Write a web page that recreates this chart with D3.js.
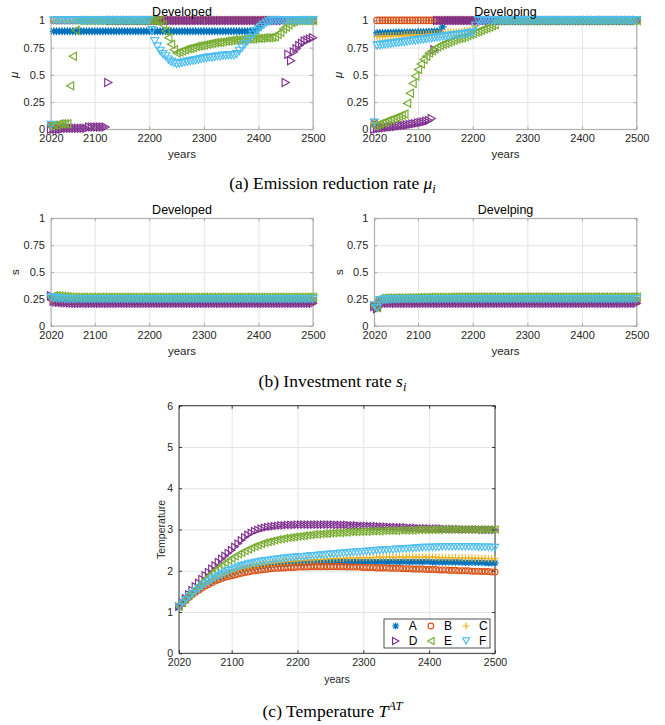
<!DOCTYPE html>
<html><head><meta charset="utf-8">
<script src="https://cdn.jsdelivr.net/npm/d3@7"></script>
<style>body{margin:0;background:#fff}svg{display:block}</style>
</head><body>
<svg id="chart" width="665" height="725"></svg>
<script>
const years = [
 2020,2025,2030,2035,2040,2045,2050,2055,2060,2065,
 2070,2075,2080,2085,2090,2095,2100,2105,2110,2115,
 2120,2125,2130,2135,2140,2145,2150,2155,2160,2165,
 2170,2175,2180,2185,2190,2195,2200,2205,2210,2215,
 2220,2225,2230,2235,2240,2245,2250,2255,2260,2265,
 2270,2275,2280,2285,2290,2295,2300,2305,2310,2315,
 2320,2325,2330,2335,2340,2345,2350,2355,2360,2365,
 2370,2375,2380,2385,2390,2395,2400,2405,2410,2415,
 2420,2425,2430,2435,2440,2445,2450,2455,2460,2465,
 2470,2475,2480,2485,2490,2495,2500];

const seriesNames = ["A","B","C","D","E","F"];
const seriesColors = ["#0072BD","#D95319","#EDB120","#7E2F8E","#77AC30","#4DBEEE"];
const seriesMarkers = ["asterisk","circle","plus","right","left","down"];
const xTicks = [2020,2100,2200,2300,2400,2500];
const unitTicks = [0,0.25,0.5,0.75,1];
const tempTicks = [0,1,2,3,4,5,6];

// ---- (a) Emission reduction rate, Developed ----
const muDevA = [
 0.04,0.9,0.9,0.9,0.9,0.9,0.9,0.9,0.9,0.9,
 0.9,0.9,0.9,0.9,0.9,0.9,0.9,0.9,0.9,0.9,
 0.9,0.9,0.9,0.9,0.9,0.9,0.9,0.9,0.9,0.9,
 0.9,0.9,0.9,0.9,0.9,0.9,0.9,0.9,0.9,0.9,
 0.9,0.9,0.9,0.9,0.9,0.9,0.9,0.9,0.9,0.9,
 0.9,0.9,0.9,0.9,0.9,0.9,0.9,0.9,0.9,0.9,
 0.9,0.9,0.9,0.9,0.9,0.9,0.9,0.9,0.9,0.9,
 0.9,0.9,0.9,0.9,0.9,0.9,0.93,0.96,0.99,1,
 1,1,1,1,1,1,1,1,1,1,
 1,1,1,1,1,1,1];
const muDevB = [
 0.04,1,1,1,1,1,1,1,1,1,
 1,1,1,1,1,1,1,1,1,1,
 1,1,1,1,1,1,1,1,1,1,
 1,1,1,1,1,1,1,1,1,1,
 1,1,1,1,1,1,1,1,1,1,
 1,1,1,1,1,1,1,1,1,1,
 1,1,1,1,1,1,1,1,1,1,
 1,1,1,1,1,1,1,1,1,1,
 1,1,1,1,1,1,1,1,1,1,
 1,1,1,1,1,1,1];
const muDevC = [
 0.04,1,1,1,1,1,1,1,1,1,
 1,1,1,1,1,1,1,1,1,1,
 1,1,1,1,1,1,1,1,1,1,
 1,1,1,1,1,1,1,1,1,1,
 1,1,1,1,1,1,1,1,1,1,
 1,1,1,1,1,1,1,1,1,1,
 1,1,1,1,1,1,1,1,1,1,
 1,1,1,1,1,1,1,1,1,1,
 1,1,1,1,1,1,1,1,1,1,
 1,1,1,1,1,1,1];
const muDevD = [
 0,0,0,0,0,0.01,0.01,0.01,0.01,0.01,
 0.01,0.01,0.01,0.01,0.02,0.02,0.02,0.02,0.02,0.02,
 0.02,0.43,1,1,1,1,1,1,1,1,
 1,1,1,1,1,1,1,1,1,1,
 1,1,1,1,1,1,1,1,1,1,
 1,1,1,1,1,1,1,1,1,1,
 1,1,1,1,1,1,1,1,1,1,
 1,1,1,1,1,1,1,1,1,1,
 1,1,1,1,1,1,0.43,0.69,0.63,0.71,
 0.74,0.77,0.79,0.81,0.82,0.83,0.84];
const muDevE = [
 0.03,0.04,0.04,0.05,0.05,0.05,0.05,0.40,0.67,0.91,
 1,1,1,1,1,1,1,1,1,1,
 1,1,1,1,1,1,1,1,1,1,
 1,1,1,1,1,1,1,1,1,1,
 1,0.96,0.90,0.84,0.78,0.73,0.70,0.71,0.72,0.73,
 0.74,0.745,0.75,0.76,0.765,0.77,0.775,0.78,0.785,0.79,
 0.795,0.80,0.80,0.805,0.81,0.81,0.815,0.82,0.82,0.82,
 0.825,0.825,0.83,0.83,0.83,0.835,0.835,0.835,0.84,0.84,
 0.84,0.845,0.85,0.87,0.89,0.92,0.94,0.96,0.98,0.99,
 1,1,1,1,1,1,1];
const muDevF = [
 0.04,1,1,1,1,1,1,1,1,1,
 1,1,1,1,1,1,1,1,1,1,
 1,1,1,1,1,1,1,1,1,1,
 1,1,1,1,1,1,1,0.91,0.81,0.76,
 0.72,0.69,0.67,0.64,0.62,0.61,0.60,0.605,0.61,0.615,
 0.62,0.625,0.63,0.635,0.64,0.645,0.65,0.655,0.66,0.66,
 0.665,0.67,0.67,0.675,0.675,0.68,0.68,0.68,0.69,0.72,
 0.75,0.78,0.81,0.84,0.87,0.90,0.92,0.94,0.96,0.98,
 0.99,1,1,1,1,1,1,1,1,1,
 1,1,1,1,1,1,1];

// ---- (a) Emission reduction rate, Developing ----
const muDvgA = [
 0.06,0.885,0.885,0.885,0.885,0.887,0.887,0.887,0.888,0.888,
 0.888,0.889,0.889,0.89,0.89,0.89,0.891,0.892,0.893,0.894,
 0.895,0.896,0.897,0.898,0.90,0.94,1,1,1,1,
 1,1,1,1,1,1,1,1,1,1,
 1,1,1,1,1,1,1,1,1,1,
 1,1,1,1,1,1,1,1,1,1,
 1,1,1,1,1,1,1,1,1,1,
 1,1,1,1,1,1,1,1,1,1,
 1,1,1,1,1,1,1,1,1,1,
 1,1,1,1,1,1,1];
const muDvgB = [
 0.06,1,1,1,1,1,1,1,1,1,
 1,1,1,1,1,1,1,1,1,1,
 1,1,1,1,1,1,1,1,1,1,
 1,1,1,1,1,1,1,1,1,1,
 1,1,1,1,1,1,1,1,1,1,
 1,1,1,1,1,1,1,1,1,1,
 1,1,1,1,1,1,1,1,1,1,
 1,1,1,1,1,1,1,1,1,1,
 1,1,1,1,1,1,1,1,1,1,
 1,1,1,1,1,1,1];
const muDvgC = [
 0.06,0.85,0.85,0.855,0.855,0.855,0.86,0.86,0.86,0.86,
 0.86,0.865,0.865,0.865,0.865,0.87,0.87,0.87,0.87,0.87,
 0.875,0.875,0.875,0.875,0.88,0.88,0.885,0.885,0.89,0.89,
 0.89,0.895,0.895,0.90,0.90,0.905,0.91,0.95,1,1,
 1,1,1,1,1,1,1,1,1,1,
 1,1,1,1,1,1,1,1,1,1,
 1,1,1,1,1,1,1,1,1,1,
 1,1,1,1,1,1,1,1,1,1,
 1,1,1,1,1,1,1,1,1,1,
 1,1,1,1,1,1,1];
const muDvgD = [
 0,0.005,0.01,0.012,0.015,0.018,0.02,0.023,0.026,0.03,
 0.033,0.036,0.04,0.044,0.048,0.052,0.057,0.062,0.067,0.073,
 0.08,0.10,0.73,1,1,1,1,1,1,1,
 1,1,1,1,1,1,1,1,1,1,
 1,1,1,1,1,1,1,1,1,1,
 1,1,1,1,1,1,1,1,1,1,
 1,1,1,1,1,1,1,1,1,1,
 1,1,1,1,1,1,1,1,1,1,
 1,1,1,1,1,1,1,1,1,1,
 1,1,1,1,1,1,1];
const muDvgE = [
 0.03,0.04,0.05,0.06,0.07,0.08,0.09,0.10,0.11,0.12,
 0.13,0.14,0.24,0.33,0.42,0.49,0.55,0.60,0.64,0.67,
 0.70,0.72,0.74,0.755,0.77,0.78,0.79,0.80,0.81,0.82,
 0.83,0.835,0.84,0.85,0.86,0.87,0.88,0.89,0.90,0.91,
 0.92,0.93,0.94,0.95,0.96,1,1,1,1,1,
 1,1,1,1,1,1,1,1,1,1,
 1,1,1,1,1,1,1,1,1,1,
 1,1,1,1,1,1,1,1,1,1,
 1,1,1,1,1,1,1,1,1,1,
 1,1,1,1,1,1,1];
const muDvgF = [
 0.06,0.77,0.773,0.776,0.78,0.783,0.786,0.79,0.793,0.796,
 0.80,0.803,0.806,0.81,0.813,0.816,0.82,0.823,0.826,0.83,
 0.833,0.836,0.84,0.843,0.846,0.85,0.853,0.856,0.86,0.863,
 0.866,0.87,0.873,0.876,0.88,0.883,0.89,0.95,1,1,
 1,1,1,1,1,1,1,1,1,1,
 1,1,1,1,1,1,1,1,1,1,
 1,1,1,1,1,1,1,1,1,1,
 1,1,1,1,1,1,1,1,1,1,
 1,1,1,1,1,1,1,1,1,1,
 1,1,1,1,1,1,1];

// ---- (b) Investment rate, Developed ----
const sDevA = [
 0.26,0.245,0.242,0.24,0.24,0.24,0.24,0.24,0.24,0.24,
 0.24,0.24,0.24,0.24,0.24,0.24,0.24,0.24,0.24,0.24,
 0.24,0.24,0.24,0.24,0.24,0.24,0.24,0.24,0.24,0.24,
 0.24,0.24,0.24,0.24,0.24,0.24,0.24,0.24,0.24,0.24,
 0.24,0.24,0.24,0.24,0.24,0.24,0.24,0.24,0.24,0.24,
 0.24,0.24,0.24,0.24,0.24,0.24,0.24,0.24,0.24,0.24,
 0.24,0.24,0.24,0.24,0.24,0.24,0.24,0.24,0.24,0.24,
 0.24,0.24,0.24,0.24,0.24,0.24,0.24,0.24,0.24,0.24,
 0.24,0.24,0.24,0.24,0.24,0.24,0.24,0.24,0.24,0.24,
 0.24,0.24,0.24,0.24,0.24,0.24,0.24];
const sDevB = [
 0.26,0.235,0.232,0.23,0.23,0.23,0.23,0.23,0.23,0.23,
 0.23,0.23,0.23,0.23,0.23,0.23,0.23,0.23,0.23,0.23,
 0.23,0.23,0.23,0.23,0.23,0.23,0.23,0.23,0.23,0.23,
 0.23,0.23,0.23,0.23,0.23,0.23,0.23,0.23,0.23,0.23,
 0.23,0.23,0.23,0.23,0.23,0.23,0.23,0.23,0.23,0.23,
 0.23,0.23,0.23,0.23,0.23,0.23,0.23,0.23,0.23,0.23,
 0.23,0.23,0.23,0.23,0.23,0.23,0.23,0.23,0.23,0.23,
 0.23,0.23,0.23,0.23,0.23,0.23,0.23,0.23,0.23,0.23,
 0.23,0.23,0.23,0.23,0.23,0.23,0.23,0.23,0.23,0.23,
 0.23,0.23,0.23,0.23,0.23,0.23,0.23];
const sDevC = [
 0.26,0.25,0.248,0.245,0.245,0.245,0.245,0.245,0.245,0.245,
 0.245,0.245,0.245,0.245,0.245,0.245,0.245,0.245,0.245,0.245,
 0.245,0.245,0.245,0.245,0.245,0.245,0.245,0.245,0.245,0.245,
 0.245,0.245,0.245,0.245,0.245,0.245,0.245,0.245,0.245,0.245,
 0.245,0.245,0.245,0.245,0.245,0.245,0.245,0.245,0.245,0.245,
 0.245,0.245,0.245,0.245,0.245,0.245,0.245,0.245,0.245,0.245,
 0.245,0.245,0.245,0.245,0.245,0.245,0.245,0.245,0.245,0.245,
 0.245,0.245,0.245,0.245,0.245,0.245,0.245,0.245,0.245,0.245,
 0.245,0.245,0.245,0.245,0.245,0.245,0.245,0.245,0.245,0.245,
 0.245,0.245,0.245,0.245,0.245,0.245,0.245];
const sDevD = [
 0.28,0.23,0.222,0.22,0.218,0.216,0.215,0.214,0.213,0.212,
 0.21,0.21,0.21,0.21,0.21,0.21,0.21,0.21,0.21,0.21,
 0.21,0.21,0.21,0.21,0.21,0.21,0.21,0.21,0.21,0.21,
 0.21,0.21,0.21,0.21,0.21,0.21,0.21,0.21,0.21,0.21,
 0.21,0.21,0.21,0.21,0.21,0.21,0.21,0.21,0.21,0.21,
 0.21,0.21,0.21,0.21,0.21,0.21,0.21,0.21,0.21,0.21,
 0.21,0.21,0.21,0.21,0.21,0.21,0.21,0.21,0.21,0.21,
 0.21,0.21,0.21,0.21,0.21,0.21,0.21,0.21,0.21,0.21,
 0.21,0.21,0.21,0.21,0.21,0.21,0.21,0.21,0.21,0.21,
 0.21,0.21,0.21,0.21,0.21,0.21,0.21];
const sDevE = [
 0.27,0.28,0.28,0.278,0.276,0.274,0.272,0.27,0.268,0.267,
 0.266,0.266,0.266,0.266,0.266,0.266,0.266,0.266,0.266,0.266,
 0.266,0.266,0.266,0.266,0.266,0.266,0.266,0.266,0.266,0.266,
 0.266,0.266,0.266,0.266,0.266,0.266,0.266,0.266,0.266,0.266,
 0.266,0.266,0.266,0.266,0.266,0.266,0.266,0.266,0.266,0.266,
 0.266,0.266,0.266,0.266,0.266,0.266,0.266,0.266,0.266,0.266,
 0.266,0.266,0.266,0.266,0.266,0.266,0.266,0.266,0.266,0.266,
 0.266,0.266,0.266,0.266,0.266,0.266,0.266,0.266,0.266,0.266,
 0.266,0.266,0.266,0.266,0.266,0.266,0.266,0.266,0.266,0.266,
 0.266,0.266,0.266,0.266,0.266,0.266,0.266];
const sDevF = [
 0.265,0.26,0.258,0.256,0.254,0.252,0.25,0.25,0.25,0.25,
 0.25,0.25,0.25,0.25,0.25,0.25,0.25,0.25,0.25,0.25,
 0.25,0.25,0.25,0.25,0.25,0.25,0.25,0.25,0.25,0.25,
 0.25,0.25,0.25,0.25,0.25,0.25,0.25,0.25,0.25,0.25,
 0.25,0.25,0.25,0.25,0.25,0.25,0.25,0.25,0.25,0.25,
 0.25,0.25,0.25,0.25,0.25,0.25,0.25,0.25,0.25,0.25,
 0.25,0.25,0.25,0.25,0.25,0.25,0.25,0.25,0.25,0.25,
 0.25,0.25,0.25,0.25,0.25,0.25,0.25,0.25,0.25,0.25,
 0.25,0.25,0.25,0.25,0.25,0.25,0.25,0.25,0.25,0.25,
 0.25,0.25,0.25,0.25,0.25,0.25,0.25];

// ---- (b) Investment rate, Developing ----
const sDvgA = [
 0.19,0.17,0.232,0.235,0.236,0.237,0.238,0.238,0.239,0.239,
 0.24,0.24,0.24,0.24,0.24,0.24,0.24,0.24,0.24,0.24,
 0.24,0.24,0.24,0.24,0.24,0.24,0.24,0.24,0.24,0.24,
 0.24,0.24,0.24,0.24,0.24,0.24,0.24,0.24,0.24,0.24,
 0.24,0.24,0.24,0.24,0.24,0.24,0.24,0.24,0.24,0.24,
 0.24,0.24,0.24,0.24,0.24,0.24,0.24,0.24,0.24,0.24,
 0.24,0.24,0.24,0.24,0.24,0.24,0.24,0.24,0.24,0.24,
 0.24,0.24,0.24,0.24,0.24,0.24,0.24,0.24,0.24,0.24,
 0.24,0.24,0.24,0.24,0.24,0.24,0.24,0.24,0.24,0.24,
 0.24,0.24,0.24,0.24,0.24,0.24,0.24];
const sDvgB = [
 0.19,0.17,0.222,0.225,0.226,0.227,0.228,0.228,0.229,0.229,
 0.23,0.23,0.23,0.23,0.23,0.23,0.23,0.23,0.23,0.23,
 0.23,0.23,0.23,0.23,0.23,0.23,0.23,0.23,0.23,0.23,
 0.23,0.23,0.23,0.23,0.23,0.23,0.23,0.23,0.23,0.23,
 0.23,0.23,0.23,0.23,0.23,0.23,0.23,0.23,0.23,0.23,
 0.23,0.23,0.23,0.23,0.23,0.23,0.23,0.23,0.23,0.23,
 0.23,0.23,0.23,0.23,0.23,0.23,0.23,0.23,0.23,0.23,
 0.23,0.23,0.23,0.23,0.23,0.23,0.23,0.23,0.23,0.23,
 0.23,0.23,0.23,0.23,0.23,0.23,0.23,0.23,0.23,0.23,
 0.23,0.23,0.23,0.23,0.23,0.23,0.23];
const sDvgC = [
 0.19,0.17,0.238,0.24,0.242,0.243,0.244,0.244,0.245,0.245,
 0.245,0.245,0.245,0.245,0.245,0.245,0.245,0.245,0.245,0.245,
 0.245,0.245,0.245,0.245,0.245,0.245,0.245,0.245,0.245,0.245,
 0.245,0.245,0.245,0.245,0.245,0.245,0.245,0.245,0.245,0.245,
 0.245,0.245,0.245,0.245,0.245,0.245,0.245,0.245,0.245,0.245,
 0.245,0.245,0.245,0.245,0.245,0.245,0.245,0.245,0.245,0.245,
 0.245,0.245,0.245,0.245,0.245,0.245,0.245,0.245,0.245,0.245,
 0.245,0.245,0.245,0.245,0.245,0.245,0.245,0.245,0.245,0.245,
 0.245,0.245,0.245,0.245,0.245,0.245,0.245,0.245,0.245,0.245,
 0.245,0.245,0.245,0.245,0.245,0.245,0.245];
const sDvgD = [
 0.18,0.16,0.215,0.213,0.212,0.211,0.21,0.21,0.21,0.21,
 0.21,0.21,0.21,0.21,0.21,0.21,0.21,0.21,0.21,0.21,
 0.21,0.21,0.21,0.21,0.21,0.21,0.21,0.21,0.21,0.21,
 0.21,0.21,0.21,0.21,0.21,0.21,0.21,0.21,0.21,0.21,
 0.21,0.21,0.21,0.21,0.21,0.21,0.21,0.21,0.21,0.21,
 0.21,0.21,0.21,0.21,0.21,0.21,0.21,0.21,0.21,0.21,
 0.21,0.21,0.21,0.21,0.21,0.21,0.21,0.21,0.21,0.21,
 0.21,0.21,0.21,0.21,0.21,0.21,0.21,0.21,0.21,0.21,
 0.21,0.21,0.21,0.21,0.21,0.21,0.21,0.21,0.21,0.21,
 0.21,0.21,0.21,0.21,0.21,0.21,0.21];
const sDvgE = [
 0.19,0.17,0.255,0.258,0.259,0.26,0.26,0.26,0.26,0.26,
 0.261,0.261,0.262,0.262,0.263,0.263,0.264,0.264,0.265,0.265,
 0.266,0.266,0.267,0.267,0.267,0.268,0.268,0.268,0.269,0.269,
 0.269,0.27,0.27,0.27,0.27,0.27,0.27,0.27,0.27,0.27,
 0.27,0.27,0.27,0.27,0.27,0.27,0.27,0.27,0.27,0.27,
 0.27,0.27,0.27,0.27,0.27,0.27,0.27,0.27,0.27,0.27,
 0.27,0.27,0.27,0.27,0.27,0.27,0.27,0.27,0.27,0.27,
 0.27,0.27,0.27,0.27,0.27,0.27,0.27,0.27,0.27,0.27,
 0.27,0.27,0.27,0.27,0.27,0.27,0.27,0.27,0.27,0.27,
 0.27,0.27,0.27,0.27,0.27,0.27,0.27];
const sDvgF = [
 0.19,0.165,0.24,0.243,0.245,0.246,0.247,0.248,0.248,0.249,
 0.25,0.25,0.25,0.25,0.25,0.25,0.25,0.25,0.25,0.25,
 0.25,0.25,0.25,0.25,0.25,0.25,0.25,0.25,0.25,0.25,
 0.25,0.25,0.25,0.25,0.25,0.25,0.25,0.25,0.25,0.25,
 0.25,0.25,0.25,0.25,0.25,0.25,0.25,0.25,0.25,0.25,
 0.25,0.25,0.25,0.25,0.25,0.25,0.25,0.25,0.25,0.25,
 0.25,0.25,0.25,0.25,0.25,0.25,0.25,0.25,0.25,0.25,
 0.25,0.25,0.25,0.25,0.25,0.25,0.25,0.25,0.25,0.25,
 0.25,0.25,0.25,0.25,0.25,0.25,0.25,0.25,0.25,0.25,
 0.25,0.25,0.25,0.25,0.25,0.25,0.25];

// ---- (c) Temperature ----
const tempA = [
 1.12,1.21,1.29,1.37,1.44,1.50,1.56,1.61,1.66,1.71,
 1.75,1.79,1.83,1.86,1.89,1.92,1.95,1.97,2.00,2.02,
 2.04,2.06,2.07,2.09,2.10,2.11,2.12,2.13,2.14,2.15,
 2.16,2.16,2.17,2.17,2.18,2.18,2.19,2.19,2.19,2.20,
 2.20,2.20,2.21,2.21,2.21,2.21,2.22,2.22,2.22,2.22,
 2.22,2.22,2.22,2.22,2.22,2.22,2.22,2.22,2.22,2.22,
 2.22,2.22,2.22,2.22,2.22,2.22,2.22,2.22,2.22,2.22,
 2.22,2.22,2.22,2.22,2.22,2.22,2.22,2.21,2.21,2.21,
 2.21,2.21,2.21,2.21,2.21,2.21,2.20,2.20,2.20,2.20,
 2.20,2.20,2.20,2.19,2.19,2.19,2.19];
const tempB = [
 1.12,1.20,1.28,1.35,1.42,1.48,1.53,1.58,1.63,1.67,
 1.71,1.75,1.78,1.81,1.84,1.86,1.88,1.90,1.92,1.94,
 1.96,1.97,1.99,2.00,2.01,2.02,2.03,2.04,2.05,2.06,
 2.06,2.07,2.07,2.08,2.08,2.08,2.09,2.09,2.09,2.09,
 2.10,2.10,2.10,2.10,2.10,2.10,2.10,2.10,2.10,2.10,
 2.10,2.09,2.09,2.09,2.09,2.09,2.08,2.08,2.08,2.08,
 2.07,2.07,2.07,2.07,2.06,2.06,2.06,2.06,2.05,2.05,
 2.05,2.04,2.04,2.04,2.04,2.03,2.03,2.03,2.03,2.02,
 2.02,2.02,2.01,2.01,2.01,2.00,2.00,2.00,2.00,1.99,
 1.99,1.99,1.98,1.98,1.98,1.97,1.97];
const tempC = [
 1.12,1.21,1.29,1.37,1.44,1.50,1.56,1.62,1.67,1.72,
 1.76,1.80,1.84,1.88,1.91,1.94,1.97,2.00,2.02,2.05,
 2.07,2.09,2.11,2.12,2.14,2.15,2.16,2.17,2.18,2.19,
 2.20,2.21,2.22,2.22,2.23,2.24,2.24,2.25,2.25,2.26,
 2.26,2.27,2.27,2.28,2.28,2.29,2.29,2.29,2.30,2.30,
 2.30,2.31,2.31,2.31,2.31,2.32,2.32,2.32,2.32,2.32,
 2.33,2.33,2.33,2.33,2.33,2.33,2.33,2.33,2.33,2.33,
 2.33,2.33,2.33,2.33,2.33,2.33,2.33,2.33,2.33,2.32,
 2.32,2.32,2.32,2.32,2.32,2.31,2.31,2.31,2.31,2.31,
 2.30,2.30,2.30,2.30,2.29,2.29,2.29];
const tempD = [
 1.13,1.23,1.33,1.43,1.53,1.62,1.71,1.80,1.89,1.97,
 2.05,2.13,2.21,2.29,2.36,2.43,2.50,2.58,2.66,2.74,
 2.81,2.87,2.92,2.96,2.99,3.02,3.04,3.06,3.07,3.08,
 3.09,3.10,3.10,3.11,3.11,3.11,3.12,3.12,3.12,3.12,
 3.12,3.12,3.12,3.12,3.12,3.12,3.12,3.12,3.11,3.11,
 3.11,3.11,3.10,3.10,3.10,3.09,3.09,3.09,3.08,3.08,
 3.08,3.07,3.07,3.07,3.06,3.06,3.06,3.05,3.05,3.05,
 3.04,3.04,3.04,3.03,3.03,3.03,3.03,3.02,3.02,3.02,
 3.02,3.01,3.01,3.01,3.01,3.01,3.00,3.00,3.00,3.00,
 3.00,3.00,2.99,2.99,2.99,2.99,2.99];
const tempE = [
 1.13,1.22,1.31,1.40,1.48,1.56,1.64,1.72,1.80,1.87,
 1.94,2.01,2.07,2.13,2.19,2.25,2.30,2.35,2.40,2.44,
 2.48,2.52,2.56,2.59,2.62,2.65,2.68,2.70,2.72,2.74,
 2.76,2.77,2.79,2.80,2.81,2.82,2.83,2.84,2.85,2.86,
 2.87,2.88,2.88,2.89,2.90,2.90,2.91,2.91,2.92,2.92,
 2.93,2.93,2.94,2.94,2.94,2.95,2.95,2.95,2.96,2.96,
 2.96,2.96,2.97,2.97,2.97,2.97,2.97,2.98,2.98,2.98,
 2.98,2.98,2.99,2.99,2.99,2.99,2.99,2.99,2.99,2.99,
 3.00,3.00,3.00,3.00,3.00,3.00,3.00,3.00,3.00,3.00,
 3.00,3.00,3.00,3.00,3.00,3.00,3.00];
const tempF = [
 1.12,1.21,1.29,1.37,1.44,1.51,1.57,1.63,1.69,1.74,
 1.79,1.84,1.88,1.92,1.96,2.00,2.03,2.06,2.09,2.12,
 2.14,2.16,2.18,2.20,2.21,2.23,2.24,2.25,2.26,2.27,
 2.28,2.29,2.30,2.31,2.32,2.32,2.33,2.34,2.34,2.35,
 2.36,2.36,2.37,2.38,2.38,2.39,2.40,2.40,2.41,2.42,
 2.42,2.43,2.44,2.44,2.45,2.46,2.46,2.47,2.47,2.48,
 2.49,2.49,2.50,2.50,2.51,2.51,2.52,2.52,2.53,2.53,
 2.54,2.54,2.55,2.55,2.56,2.56,2.56,2.57,2.57,2.57,
 2.58,2.58,2.58,2.58,2.58,2.58,2.58,2.58,2.58,2.58,
 2.58,2.57,2.57,2.57,2.57,2.56,2.56];

// ================= drawing =================
const svg = d3.select("#chart");
const SANS = "'Liberation Sans', Arial, Helvetica, sans-serif";
const SERIF = "'Liberation Serif', 'Times New Roman', serif";
const TXT = "#262626";

function markerPath(type, r) {
  const a = r * 0.72;
  switch (type) {
    case "asterisk": return `M${-r},0L${r},0M0,${-r}L0,${r}M${-a},${-a}L${a},${a}M${-a},${a}L${a},${-a}`;
    case "circle": { const c = r * 0.82; return `M${c},0A${c},${c},0,1,1,${-c},0A${c},${c},0,1,1,${c},0Z`; }
    case "plus": return `M${-r},0L${r},0M0,${-r}L0,${r}`;
    case "right": return `M${-r*0.9},${-r}L${r*0.9},0L${-r*0.9},${r}Z`;
    case "left": return `M${r*0.9},${-r}L${-r*0.9},0L${r*0.9},${r}Z`;
    case "down": return `M${-r},${-r*0.9}L${r},${-r*0.9}L0,${r*0.9}Z`;
  }
}

function drawPanel(cfg) {
  const g = svg.append("g");
  const x = d3.scaleLinear().domain([2020, 2500]).range([cfg.left, cfg.right]);
  const y = d3.scaleLinear().domain(cfg.yDomain).range([cfg.bottom, cfg.top]);
  const h = cfg.bottom - cfg.top, w = cfg.right - cfg.left;

  // grid
  const gx = g.append("g").attr("transform", `translate(0,${cfg.bottom})`)
    .call(d3.axisBottom(x).tickValues(xTicks).tickSize(-h).tickFormat(""));
  const gy = g.append("g").attr("transform", `translate(${cfg.left},0)`)
    .call(d3.axisLeft(y).tickValues(cfg.yTicks).tickSize(-w).tickFormat(""));
  [gx, gy].forEach(s => {
    s.select(".domain").remove();
    s.selectAll("line").attr("stroke", "#e4e4e4").attr("stroke-width", 1);
  });

  // box
  g.append("rect").attr("x", cfg.left).attr("y", cfg.top).attr("width", w).attr("height", h)
    .attr("fill", "none").attr("stroke", cfg.axisColor).attr("stroke-width", cfg.axisWidth);

  // data markers
  cfg.data.forEach((vals, si) => {
    g.append("g")
      .attr("fill", "none")
      .attr("stroke", seriesColors[si])
      .attr("stroke-width", 1.15)
      .selectAll("path").data(vals).join("path")
      .attr("transform", (v, i) => `translate(${x(years[i])},${y(v)})`)
      .attr("d", markerPath(seriesMarkers[si], cfg.r));
  });

  // axes with inward ticks + labels
  const tick = 3;
  const ax = g.append("g").attr("transform", `translate(0,${cfg.bottom})`)
    .call(d3.axisBottom(x).tickValues(xTicks).tickSizeInner(-tick).tickSizeOuter(0).tickPadding(cfg.xPad).tickFormat(d3.format("d")));
  const ay = g.append("g").attr("transform", `translate(${cfg.left},0)`)
    .call(d3.axisLeft(y).tickValues(cfg.yTicks).tickSizeInner(-tick).tickSizeOuter(0).tickPadding(cfg.yPad).tickFormat(d => String(d)));
  const at = g.append("g").attr("transform", `translate(0,${cfg.top})`)
    .call(d3.axisTop(x).tickValues(xTicks).tickSizeInner(-tick).tickSizeOuter(0).tickFormat(""));
  const ar = g.append("g").attr("transform", `translate(${cfg.right},0)`)
    .call(d3.axisRight(y).tickValues(cfg.yTicks).tickSizeInner(-tick).tickSizeOuter(0).tickFormat(""));
  [ax, ay, at, ar].forEach(s => {
    s.select(".domain").remove();
    s.selectAll("line").attr("stroke", cfg.axisColor).attr("stroke-width", cfg.axisWidth);
    s.selectAll("text").attr("fill", TXT).attr("font-family", SANS).attr("font-size", cfg.tickFont);
  });

  // x label
  g.append("text").attr("x", (cfg.left + cfg.right) / 2).attr("y", cfg.bottom + cfg.xLabelDy)
    .attr("text-anchor", "middle").attr("font-family", SANS).attr("font-size", cfg.labelFont)
    .attr("fill", TXT).text("years");
  // y label
  g.append("text").attr("transform", `translate(${cfg.ylabelX},${(cfg.top + cfg.bottom) / 2}) rotate(-90)`)
    .attr("text-anchor", "middle").attr("font-family", cfg.ylabelFamily || SANS)
    .attr("font-style", cfg.ylabelItalic ? "italic" : "normal")
    .attr("font-size", cfg.labelFont).attr("fill", TXT).text(cfg.ylabel);
  // title
  if (cfg.title) {
    g.append("text").attr("x", (cfg.left + cfg.right) / 2).attr("y", cfg.top - 4)
      .attr("text-anchor", "middle").attr("font-family", SANS).attr("font-size", 12.5)
      .attr("fill", "#000").text(cfg.title);
  }
  return {g, x, y};
}

const topCfg = {yDomain:[0,1], yTicks:unitTicks, r:4, axisColor:"#9a9a9a", axisWidth:0.8,
  tickFont:11, labelFont:11.5, xPad:5, yPad:6, xLabelDy:29};

drawPanel(Object.assign({}, topCfg, {left:51, right:313, top:20.4, bottom:129.3,
  title:"Developed", ylabel:"μ", ylabelItalic:true, ylabelX:18,
  data:[muDevA, muDevB, muDevC, muDevD, muDevE, muDevF]}));
drawPanel(Object.assign({}, topCfg, {left:374.3, right:636.7, top:20.4, bottom:129.3,
  title:"Developing", ylabel:"μ", ylabelItalic:true, ylabelX:342,
  data:[muDvgA, muDvgB, muDvgC, muDvgD, muDvgE, muDvgF]}));
drawPanel(Object.assign({}, topCfg, {left:51, right:313, top:218.3, bottom:326,
  title:"Developed", ylabel:"s", ylabelX:19,
  data:[sDevA, sDevB, sDevC, sDevD, sDevE, sDevF]}));
drawPanel(Object.assign({}, topCfg, {left:374.3, right:636.7, top:218.3, bottom:326,
  title:"Develping", ylabel:"s", ylabelX:343,
  data:[sDvgA, sDvgB, sDvgC, sDvgD, sDvgE, sDvgF]}));

drawPanel({left:179, right:495, top:405.7, bottom:653.3, yDomain:[0,6], yTicks:tempTicks,
  r:3.6, axisColor:"#262626", axisWidth:0.9, tickFont:10.5, labelFont:10.5, xPad:5, yPad:6, xLabelDy:30,
  ylabel:"Temperature", ylabelX:165,
  data:[tempA, tempB, tempC, tempD, tempE, tempF]});

// legend
const lg = svg.append("g");
lg.append("rect").attr("x", 384).attr("y", 619).attr("width", 106).attr("height", 29)
  .attr("fill", "#fff").attr("stroke", "#262626").attr("stroke-width", 0.8);
seriesNames.forEach((name, i) => {
  const col = i % 3, row = Math.floor(i / 3);
  const mx = 395.7 + col * 35.2, my = 626 + row * 15;
  lg.append("path").attr("transform", `translate(${mx},${my})`)
    .attr("d", markerPath(seriesMarkers[i], 3.5)).attr("fill", "none")
    .attr("stroke", seriesColors[i]).attr("stroke-width", 1.15);
  lg.append("text").attr("x", mx + 13).attr("y", my + 4.3).attr("font-family", SANS)
    .attr("font-size", 12).attr("fill", "#000").text(name);
});

// captions
function caption(yc, parts) {
  const t = svg.append("text").attr("x", 332.5).attr("y", yc).attr("text-anchor", "middle")
    .attr("font-family", SERIF).attr("font-size", 17.5).attr("fill", "#000");
  parts.forEach(p => {
    const s = t.append("tspan").text(p.t);
    if (p.i) s.attr("font-style", "italic");
    if (p.dy) s.attr("dy", p.dy);
    if (p.fs) s.attr("font-size", p.fs);
  });
}
caption(189, [{t:"(a) Emission reduction rate "}, {t:"μ", i:true}, {t:"i", i:true, dy:4, fs:12.5}]);
caption(387, [{t:"(b) Investment rate "}, {t:"s", i:true}, {t:"i", i:true, dy:4, fs:12.5}]);
caption(717, [{t:"(c) Temperature "}, {t:"T", i:true}, {t:"AT", i:true, dy:-7, fs:12.5}]);
</script>
</body></html>
